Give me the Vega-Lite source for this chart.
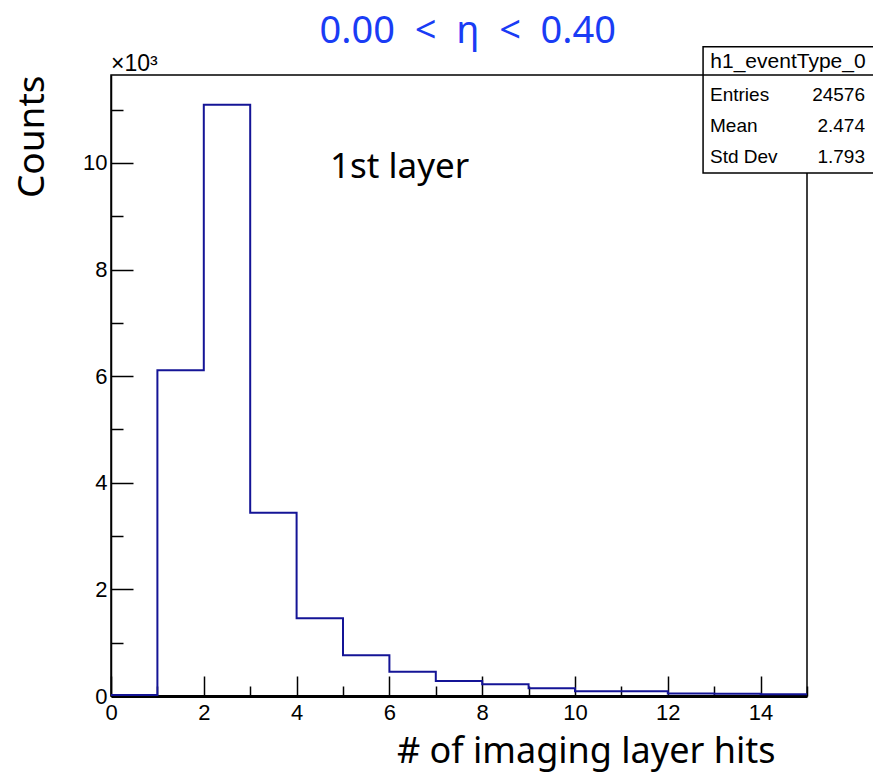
{
  "$schema": "https://vega.github.io/schema/vega-lite/v6.json",
  "width": 696,
  "height": 621,
  "autosize": {"type": "none"},
  "padding": {"left": 111, "top": 75, "right": 66, "bottom": 86},
  "background": "white",
  "config": {
    "view": {"stroke": "black", "strokeWidth": 1.5},
    "font": "Liberation Sans"
  },
  "layer": [
    {
      "data": {
        "values": [
          {"x": 0, "c": 20},
          {"x": 1, "c": 6110},
          {"x": 2, "c": 11090},
          {"x": 3, "c": 3440},
          {"x": 4, "c": 1460},
          {"x": 5, "c": 765},
          {"x": 6, "c": 457},
          {"x": 7, "c": 280},
          {"x": 8, "c": 220},
          {"x": 9, "c": 145},
          {"x": 10, "c": 90},
          {"x": 11, "c": 90},
          {"x": 12, "c": 45},
          {"x": 13, "c": 40},
          {"x": 14, "c": 35},
          {"x": 15, "c": 35}
        ]
      },
      "mark": {"type": "line", "interpolate": "step-after", "color": "#141496", "strokeWidth": 2},
      "encoding": {
        "x": {
          "field": "x", "type": "quantitative",
          "scale": {"domain": [0, 15], "nice": false, "zero": false},
          "axis": {
            "values": [0,0.5,1,1.5,2,2.5,3,3.5,4,4.5,5,5.5,6,6.5,7,7.5,8,8.5,9,9.5,10,10.5,11,11.5,12,12.5,13,13.5,14,14.5,15],
            "labelExpr": "datum.value % 2 === 0 ? datum.label : ''",
            "tickSize": {"condition": {"test": "datum.value % 2 === 0", "value": -20}, "value": -10},
            "tickColor": "black",
            "tickWidth": 1.5,
            "domainColor": "black",
            "domainWidth": 3,
            "labelFont": "Liberation Sans",
            "labelFontSize": 22,
            "labelColor": "black",
            "labelPadding": 26,
            "labelFlush": false,
            "labelOverlap": false,
            "grid": false,
            "title": "# of imaging layer hits",
            "titleFont": "Noto Sans",
            "titleFontSize": 36,
            "titleFontWeight": "normal",
            "titleColor": "black",
            "titleAnchor": "end",
            "titleAlign": "right",
            "titleBaseline": "alphabetic",
            "titleX": 664,
            "titleY": 66
          }
        },
        "y": {
          "field": "c", "type": "quantitative",
          "scale": {"domain": [0, 11650], "nice": false},
          "axis": {
            "values": [0,500,1000,1500,2000,2500,3000,3500,4000,4500,5000,5500,6000,6500,7000,7500,8000,8500,9000,9500,10000,10500,11000,11500],
            "labelExpr": "datum.value % 2000 === 0 ? format(datum.value / 1000, 'd') : ''",
            "tickSize": {"condition": {"test": "datum.value % 2000 === 0", "value": -22}, "value": -12},
            "tickColor": "black",
            "tickWidth": 1.5,
            "domainColor": "black",
            "domainWidth": 1.5,
            "labelFont": "Liberation Sans",
            "labelFontSize": 22,
            "labelColor": "black",
            "labelPadding": 26,
            "labelFlush": false,
            "labelOverlap": false,
            "grid": false,
            "title": "Counts",
            "titleFont": "Noto Sans",
            "titleFontSize": 37,
            "titleFontWeight": "normal",
            "titleColor": "black",
            "titleAngle": 270,
            "titleAnchor": "end",
            "titleAlign": "right",
            "titleBaseline": "alphabetic",
            "titleX": -68,
            "titleY": 0
          }
        }
      }
    },
    {
      "data": {"values": [{}]},
      "mark": {"type": "text", "text": "0.00\u00a0 <\u00a0 η\u00a0 <\u00a0 0.40", "align": "center", "baseline": "alphabetic", "font": "Noto Sans", "fontSize": 38, "fontWeight": "normal", "fill": "#1a3cf5"},
      "encoding": {
        "x": {"datum": 7.69, "type": "quantitative"},
        "y": {"datum": 12250, "type": "quantitative"}
      }
    },
    {
      "data": {"values": [{}]},
      "mark": {"type": "text", "text": "×10³", "align": "left", "baseline": "alphabetic", "font": "Liberation Sans", "fontSize": 23, "fontWeight": "normal", "fill": "black"},
      "encoding": {
        "x": {"datum": 0, "type": "quantitative"},
        "y": {"datum": 11720, "type": "quantitative"}
      }
    },
    {
      "data": {"values": [{}]},
      "mark": {"type": "text", "text": "1st layer", "align": "left", "baseline": "alphabetic", "font": "Noto Sans", "fontSize": 35, "fontWeight": "normal", "fill": "black"},
      "encoding": {
        "x": {"datum": 4.72, "type": "quantitative"},
        "y": {"datum": 9720, "type": "quantitative"}
      }
    },
    {
      "data": {"values": [{}]},
      "mark": {"type": "rect", "fill": "white", "stroke": "black", "strokeWidth": 1.5},
      "encoding": {
        "x": {"datum": 12.76, "type": "quantitative"},
        "x2": {"datum": 16.7},
        "y": {"datum": 9810, "type": "quantitative"},
        "y2": {"datum": 12180}
      }
    },
    {
      "data": {"values": [{}]},
      "mark": {"type": "rule", "stroke": "black", "strokeWidth": 1.5},
      "encoding": {
        "x": {"datum": 12.76, "type": "quantitative"},
        "x2": {"datum": 16.7},
        "y": {"datum": 11650, "type": "quantitative"}
      }
    },
    {
      "data": {"values": [{}]},
      "mark": {"type": "text", "text": "h1_eventType_0", "align": "center", "baseline": "middle", "font": "Liberation Sans", "fontSize": 21, "fontWeight": "normal", "fill": "black"},
      "encoding": {
        "x": {"datum": 14.59, "type": "quantitative"},
        "y": {"datum": 11900, "type": "quantitative"}
      }
    },
    {
      "data": {"values": [{}]},
      "mark": {"type": "text", "text": ["Entries", "Mean", "Std Dev"], "lineHeight": 31, "align": "left", "baseline": "middle", "font": "Liberation Sans", "fontSize": 19, "fontWeight": "normal", "fill": "black"},
      "encoding": {
        "x": {"datum": 12.91, "type": "quantitative"},
        "y": {"datum": 11275, "type": "quantitative"}
      }
    },
    {
      "data": {"values": [{}]},
      "mark": {"type": "text", "text": ["24576", "2.474", "1.793"], "lineHeight": 31, "align": "right", "baseline": "middle", "font": "Liberation Sans", "fontSize": 19, "fontWeight": "normal", "fill": "black"},
      "encoding": {
        "x": {"datum": 16.25, "type": "quantitative"},
        "y": {"datum": 11275, "type": "quantitative"}
      }
    }
  ]
}
